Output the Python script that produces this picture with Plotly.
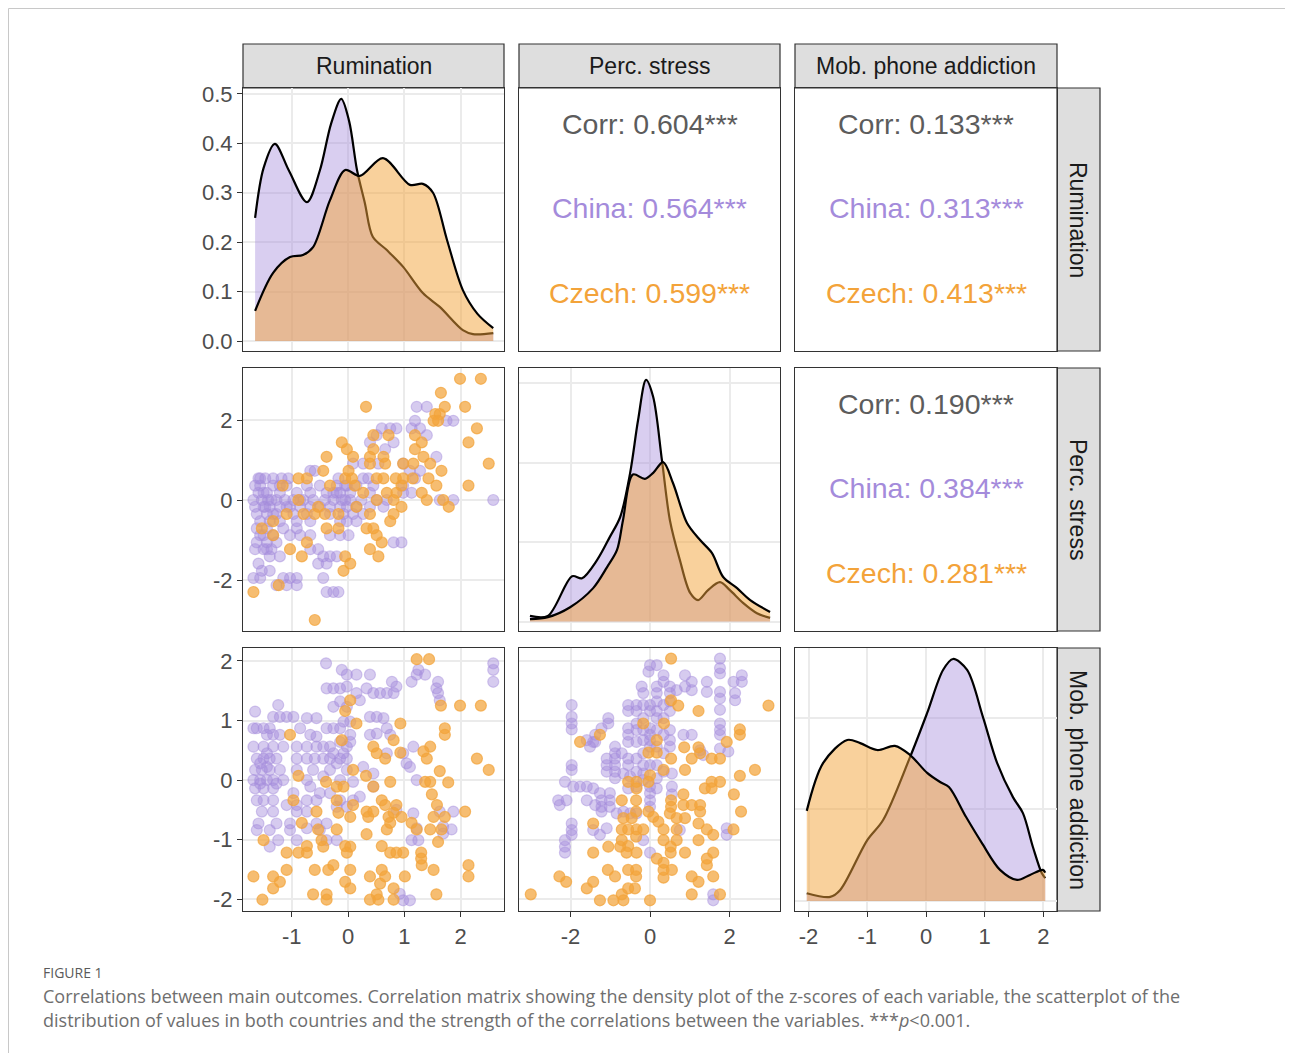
import plotly.graph_objects as go

W, H = 1293, 1053          # reference picture size (pixels)
BODY = 8                   # default page margin around the plotly div

# ---------------- data ----------------
variables = ["Rumination", "Perc. stress", "Mob. phone addiction"]
corr_rum_stress = ["0.604", "0.564", "0.599"]      # overall, China, Czech
corr_rum_phone = ["0.133", "0.313", "0.413"]
corr_stress_phone = ["0.190", "0.384", "0.281"]
signif = "***"

# density curves (z-score, density)
rum_dens_china_x = [-1.65, -1.50, -1.30, -1.05, -0.73, -0.50, -0.30, -0.12, 0.02, 0.16, 0.30, 0.44, 0.69, 0.98, 1.33, 1.63, 2.04, 2.22, 2.58]
rum_dens_china_y = [0.249, 0.350, 0.399, 0.345, 0.281, 0.345, 0.440, 0.490, 0.445, 0.346, 0.279, 0.211, 0.184, 0.150, 0.097, 0.069, 0.022, 0.014, 0.016]
rum_dens_czech_x = [-1.65, -1.33, -1.03, -0.80, -0.62, -0.32, -0.05, 0.21, 0.62, 1.10, 1.33, 1.51, 1.76, 2.04, 2.30, 2.58]
rum_dens_czech_y = [0.061, 0.138, 0.170, 0.174, 0.190, 0.285, 0.346, 0.334, 0.370, 0.316, 0.318, 0.300, 0.204, 0.103, 0.055, 0.026]

stress_dens_china_x = [-3.02, -2.57, -1.96, -1.71, -1.33, -1.01, -0.75, -0.50, -0.30, -0.10, 0.08, 0.30, 0.50, 0.75, 1.01, 1.21, 1.46, 1.76, 2.01, 2.34, 2.69, 3.02]
stress_dens_china_y = [0.014, 0.014, 0.114, 0.109, 0.155, 0.213, 0.263, 0.374, 0.507, 0.608, 0.565, 0.406, 0.255, 0.155, 0.072, 0.054, 0.079, 0.099, 0.079, 0.047, 0.021, 0.009]
stress_dens_czech_x = [-3.02, -2.57, -2.01, -1.43, -1.08, -0.83, -0.68, -0.43, -0.13, 0.08, 0.33, 0.58, 0.93, 1.26, 1.56, 1.84, 2.19, 2.52, 3.02]
stress_dens_czech_y = [0.006, 0.011, 0.036, 0.084, 0.137, 0.180, 0.255, 0.370, 0.359, 0.374, 0.401, 0.348, 0.248, 0.205, 0.172, 0.112, 0.084, 0.054, 0.024]

phone_dens_china_x = [-2.03, -1.63, -1.46, -1.00, -0.73, -0.27, 0.02, 0.29, 0.46, 0.70, 0.97, 1.21, 1.48, 1.65, 1.82, 1.97, 2.03]
phone_dens_china_y = [0.017, 0.009, 0.024, 0.133, 0.177, 0.315, 0.411, 0.505, 0.529, 0.505, 0.402, 0.302, 0.227, 0.192, 0.118, 0.061, 0.050]
phone_dens_czech_x = [-2.03, -1.75, -1.34, -1.12, -0.83, -0.53, -0.27, 0.02, 0.24, 0.39, 0.68, 0.95, 1.26, 1.55, 1.77, 1.99, 2.03]
phone_dens_czech_y = [0.197, 0.302, 0.352, 0.345, 0.330, 0.339, 0.319, 0.280, 0.260, 0.249, 0.184, 0.127, 0.068, 0.046, 0.057, 0.068, 0.062]

# scatter: (rumination, perceived stress)
china_rum_stress = [
    (1.22, 2.33), (1.40, 2.33), (1.19, 1.98), (1.75, 1.98), (1.87, 1.98),
    (0.60, 1.79), (0.75, 1.79), (0.86, 1.79), (1.13, 1.79), (1.28, 1.79),
    (0.51, 1.62), (1.40, 1.62), (0.39, 1.44), (0.81, 1.44), (0.66, 1.27), (1.57, 1.08),
    (0.09, 0.91), (0.27, 0.91), (0.54, 0.91), (0.98, 0.91),
    (-0.67, 0.73), (-0.59, 0.73), (1.10, 0.73), (1.28, 0.73),
    (-1.59, 0.54), (-1.47, 0.54), (-1.33, 0.54), (-1.18, 0.54), (-1.06, 0.54), (-0.17, 0.54), (0.27, 0.54), (0.36, 0.54), (1.19, 0.54),
    (-1.65, 0.36), (-1.56, 0.36), (-1.33, 0.36), (-1.21, 0.36), (-1.09, 0.36), (-0.73, 0.36), (-0.50, 0.36), (-0.20, 0.36), (-0.05, 0.36), (0.15, 0.36), (0.45, 0.36), (0.98, 0.36),
    (-1.59, 0.18), (-1.44, 0.18), (-1.21, 0.18), (-0.91, 0.18), (-0.67, 0.18), (-0.38, 0.18), (-0.26, 0.18), (-0.14, 0.18), (0.04, 0.18), (0.39, 0.18), (0.98, 0.18), (1.13, 0.18),
    (-1.68, 0.0), (-1.53, 0.0), (-1.42, 0.0), (-1.27, 0.0), (-1.12, 0.0), (-0.97, 0.0), (-0.79, 0.0), (-0.62, 0.0), (-0.41, 0.0), (-0.26, 0.0), (-0.11, 0.0), (0.04, 0.0), (0.24, 0.0), (0.51, 0.0), (0.69, 0.0), (1.63, 0.0), (1.87, 0.0), (2.58, 0.0),
    (-1.65, -0.17), (-1.50, -0.17), (-1.39, -0.17), (-1.21, -0.17), (-1.03, -0.17), (-0.85, -0.17), (-0.67, -0.17), (-0.50, -0.17), (-0.32, -0.17), (-0.14, -0.17), (-0.02, -0.17), (0.15, -0.17), (0.39, -0.17), (0.63, -0.17),
    (-1.62, -0.35), (-1.44, -0.35), (-1.27, -0.35), (-0.97, -0.35), (-0.73, -0.35), (-0.32, -0.35), (-0.08, -0.35), (0.09, -0.35), (0.27, -0.35),
    (-1.56, -0.53), (-1.39, -0.53), (-1.21, -0.53), (-0.91, -0.53), (-0.67, -0.53), (-0.02, -0.53), (0.15, -0.53),
    (-1.62, -0.71), (-1.44, -0.71), (-1.15, -0.71), (-0.91, -0.71),
    (-1.50, -0.88), (-1.33, -0.88), (-1.03, -0.88), (-0.85, -0.88), (-0.67, -0.88), (-0.32, -0.88), (-0.14, -0.88), (0.01, -0.88),
    (-1.62, -1.06), (-1.44, -1.06), (-1.27, -1.06), (0.81, -1.06), (0.95, -1.06),
    (-1.65, -1.23), (-1.50, -1.23), (-1.36, -1.23), (-0.67, -1.23), (-0.53, -1.23),
    (-1.39, -1.41), (-1.21, -1.41), (-0.44, -1.41), (-0.32, -1.41), (-0.20, -1.41),
    (-1.59, -1.59), (-0.53, -1.59), (-0.38, -1.59), (-1.53, -1.77), (-1.39, -1.77),
    (-1.68, -1.95), (-1.56, -1.95), (-1.15, -1.95), (-1.03, -1.95), (-0.91, -1.95), (-0.44, -1.95),
    (-1.27, -2.13), (-1.09, -2.13), (-0.91, -2.13), (-0.38, -2.30), (-0.26, -2.30), (-0.17, -2.30),
    (-1.50, 0.18), (-1.36, 0.0), (-1.47, -0.17), (-1.33, -0.35), (-1.56, 0.54), (-0.05, 0.0), (-0.20, 0.18),
    (-0.02, 0.36), (-0.14, -0.53), (-0.85, 0.0), (-1.09, -0.17), (-1.56, -0.88), (-1.44, -1.23),
]
czech_rum_stress = [
    (1.99, 3.03), (2.36, 3.03), (1.65, 2.68), (1.72, 2.33), (2.08, 2.33), (0.32, 2.33), (1.55, 2.15), (1.63, 2.15),
    (1.52, 1.98), (1.60, 1.98), (2.29, 1.79), (2.14, 1.44), (0.45, 1.62), (0.72, 1.62), (-0.11, 1.44), (-0.02, 1.27),
    (0.45, 1.27), (1.19, 1.62), (1.31, 1.44), (1.19, 1.27), (1.34, 1.08), (1.46, 0.91), (-0.38, 1.08), (0.09, 1.08),
    (0.39, 1.08), (0.39, 0.91), (0.63, 1.08), (0.66, 0.91), (0.98, 0.91), (1.16, 0.91), (1.66, 0.73), (2.50, 0.91),
    (-0.44, 0.73), (0.01, 0.73), (-0.05, 0.54), (0.07, 0.54), (-0.32, 0.36), (0.12, 0.36), (0.51, 0.54), (0.63, 0.54),
    (0.85, 0.54), (0.98, 0.54), (1.15, 0.54), (1.43, 0.54), (1.57, 0.36), (2.14, 0.36), (-1.16, 0.36), (-0.88, 0.54),
    (-0.73, 0.54), (0.69, 0.18), (0.86, 0.18), (0.95, 0.36), (0.51, 0.0), (0.81, 0.0), (1.31, 0.18), (1.40, 0.0),
    (1.69, 0.0), (1.79, -0.17), (-0.88, 0.0), (-0.53, -0.17), (-1.09, -0.35), (-0.79, -0.35), (-0.59, -0.35),
    (-0.41, -0.35), (-0.17, -0.35), (0.39, -0.35), (0.75, -0.53), (0.81, -0.35), (0.95, -0.17), (-1.33, -0.53),
    (-1.53, -0.71), (-0.38, -0.71), (-0.17, -0.71), (0.33, -0.71), (0.45, -0.71), (0.51, -0.88), (0.60, -1.06),
    (-1.33, -0.88), (-0.73, -1.06), (-1.03, -1.23), (-0.82, -1.41), (0.39, -1.23), (0.54, -1.41), (-0.05, -1.41),
    (0.04, -1.59), (-0.08, -1.77), (-1.68, -2.30), (-1.23, -2.13), (-0.59, -3.0), (0.15, -0.17), (0.27, 0.18),
]

# scatter: (rumination, mobile phone addiction)
china_rum_phone = [
    (-0.39, 1.96), (-0.11, 1.85), (-0.02, 1.77), (0.15, 1.77), (0.39, 1.77), (0.78, 1.65), (1.13, 1.65), (1.25, 1.85),
    (1.22, 1.77), (1.37, 1.77), (1.60, 1.65), (2.58, 1.96), (2.58, 1.85), (2.58, 1.65), (1.57, 1.54), (1.60, 1.46),
    (1.63, 1.34), (-0.38, 1.54), (-0.26, 1.54), (-0.14, 1.54), (-0.02, 1.57), (0.33, 1.54), (0.45, 1.46), (0.57, 1.46),
    (0.69, 1.46), (0.81, 1.46), (0.86, 1.57), (0.15, 1.46), (0.21, 1.34), (-0.14, 1.32), (-0.26, 1.23), (-0.02, 1.23),
    (-1.24, 1.26), (-1.33, 1.06), (-1.21, 1.06), (-1.09, 1.06), (-0.97, 1.06), (-1.65, 1.15), (-1.62, 0.87), (-1.50, 0.87),
    (-1.39, 0.87), (-1.68, 0.87), (-0.73, 1.04), (-0.56, 1.04), (-0.38, 0.87), (-0.26, 0.87), (-0.08, 0.98), (0.04, 0.98),
    (-0.14, 0.87), (0.39, 1.06), (0.51, 1.06), (0.63, 1.04), (0.69, 0.87), (0.75, 0.76), (0.51, 0.78), (0.39, 0.76),
    (0.04, 0.76), (-0.85, 0.87), (-0.67, 0.76), (-0.56, 0.73), (-1.21, 0.76), (-1.33, 0.76), (-1.44, 0.76),
    (-1.68, 0.56), (-1.50, 0.56), (-1.33, 0.56), (-1.15, 0.56), (-0.91, 0.56), (-0.73, 0.56), (-0.56, 0.56), (-0.44, 0.56),
    (-0.32, 0.56), (-0.02, 0.56), (0.69, 0.45), (0.98, 0.45), (1.16, 0.56),
    (-1.62, 0.36), (-1.50, 0.36), (-1.39, 0.36), (-1.27, 0.36), (-0.91, 0.36), (-0.73, 0.36), (-0.59, 0.36), (-0.44, 0.36),
    (-0.32, 0.36), (-0.14, 0.36), (-0.02, 0.36), (1.04, 0.28), (1.10, 0.22),
    (-1.65, 0.17), (-1.53, 0.17), (-1.39, 0.17), (-1.21, 0.17), (-0.91, 0.17), (-0.62, 0.17), (-0.32, 0.17), (-0.02, 0.17),
    (0.27, 0.22), (0.45, 0.11),
    (-1.68, 0.0), (-1.56, 0.0), (-1.44, 0.0), (-1.33, 0.0), (-1.15, 0.0), (-0.73, 0.0), (-0.44, 0.06), (-0.14, 0.0),
    (0.09, -0.03), (0.45, -0.11), (1.22, 0.0),
    (-1.65, -0.14), (-1.50, -0.14), (-1.33, -0.14), (-0.97, -0.22), (-0.67, -0.11), (-0.50, -0.22), (-0.32, -0.22),
    (-1.62, -0.34), (-1.50, -0.34), (-1.33, -0.34), (-1.09, -0.42), (-0.91, -0.42), (-0.73, -0.34), (-0.56, -0.34),
    (-0.14, -0.34), (0.09, -0.34), (0.21, -0.28),
    (-1.53, -0.53), (-1.33, -0.53), (-0.91, -0.53), (-0.73, -0.53), (-0.20, -0.45), (-0.02, -0.45), (0.86, -0.50),
    (1.16, -0.56), (1.63, -0.53), (1.87, -0.53),
    (-1.59, -0.73), (-1.27, -0.73), (-1.03, -0.73), (-0.56, -0.73), (-0.38, -0.73), (1.22, -0.81), (1.69, -0.78), (1.84, -0.83),
    (-1.62, -0.84), (-1.39, -0.84), (-1.03, -0.84), (-0.73, -0.81), (-0.50, -0.84), (1.13, -1.01), (1.25, -1.01), (1.69, -0.90),
    (-1.39, -1.12), (-1.24, -1.01), (-0.91, -1.01), (-0.38, -1.01), (-0.20, -1.01),
    (0.92, -1.91), (0.98, -2.02), (1.10, -2.02),
    (-1.56, 0.28), (-1.44, 0.22), (-1.56, -0.06), (-1.44, 0.45), (-1.27, -0.06), (-0.20, 0.28), (-0.08, 0.45),
    (-0.26, 0.45), (-0.14, 0.64), (0.04, 0.64),
]
czech_rum_phone = [
    (1.22, 2.03), (1.44, 2.03), (1.65, 1.25), (1.99, 1.25), (2.36, 1.25), (0.04, 1.34), (-0.05, 1.16), (0.15, 0.95),
    (0.93, 0.95), (-1.03, 0.76), (-0.11, 0.67), (1.72, 0.87), (1.72, 0.76), (0.81, 0.67), (1.46, 0.56), (0.45, 0.56),
    (0.51, 0.45), (0.66, 0.36), (0.93, 0.46), (1.34, 0.48), (1.40, 0.36), (2.29, 0.36), (2.50, 0.17), (0.09, 0.17),
    (0.32, 0.07), (-0.88, 0.07), (-0.39, -0.03), (-0.20, -0.11), (-0.08, -0.11), (0.45, -0.11), (0.75, -0.03),
    (1.37, -0.03), (1.46, -0.03), (1.78, -0.04), (1.63, 0.15), (1.49, -0.24), (-0.97, -0.34), (-0.20, -0.34),
    (0.09, -0.42), (0.60, -0.34), (0.66, -0.42), (0.86, -0.42), (0.33, -0.53), (0.45, -0.53), (-0.56, -0.53),
    (-0.17, -0.55), (0.04, -0.62), (0.36, -0.62), (0.72, -0.62), (0.81, -0.55), (0.95, -0.62), (1.58, -0.42),
    (1.52, -0.62), (1.72, -0.62), (2.08, -0.53), (-0.82, -0.72), (1.13, -0.72), (-0.53, -0.83), (-0.20, -0.83),
    (0.33, -0.91), (0.69, -0.83), (0.75, -0.72), (1.22, -0.83), (1.46, -0.83), (1.66, -0.83), (1.60, -1.04),
    (-1.50, -1.01), (-0.73, -1.11), (-1.09, -1.22), (-0.88, -1.22), (-0.73, -1.22), (-0.47, -1.01), (-0.44, -1.12),
    (-0.05, -1.11), (0.04, -1.12), (-0.02, -1.22), (0.60, -1.11), (0.75, -1.22), (0.86, -1.22), (0.98, -1.22),
    (1.30, -1.22), (1.30, -1.32), (1.31, -1.43), (2.14, -1.43), (2.14, -1.62), (-1.68, -1.62), (-1.33, -1.62),
    (-1.21, -1.71), (-1.33, -1.82), (-1.09, -1.51), (-0.59, -1.51), (-0.35, -1.51), (-0.26, -1.43), (0.04, -1.51),
    (-0.05, -1.71), (0.04, -1.82), (0.39, -1.62), (0.60, -1.51), (0.66, -1.62), (0.57, -1.74), (0.81, -1.82),
    (1.01, -1.62), (1.52, -1.51), (-0.62, -1.92), (-0.38, -1.92), (-0.38, -2.01), (0.39, -2.01), (0.51, -1.92),
    (0.54, -2.01), (0.81, -2.01), (1.57, -1.92), (-1.52, -2.01),
]

# scatter: (perceived stress, mobile phone addiction)
china_stress_phone = [
    (1.76, 2.04), (1.76, 1.88), (1.76, 1.79), (0.0, 1.93), (0.17, 1.93), (-0.04, 1.82), (0.34, 1.76), (0.34, 1.65),
    (0.88, 1.76), (1.05, 1.65), (1.43, 1.65), (1.43, 1.48), (2.10, 1.65), (2.31, 1.76), (2.31, 1.65), (-0.21, 1.57),
    (-0.17, 1.46), (0.17, 1.57), (0.17, 1.46), (0.50, 1.57), (0.50, 1.46), (0.67, 1.51), (0.88, 1.57), (1.05, 1.51),
    (1.76, 1.48), (1.76, 1.37), (2.14, 1.46), (2.14, 1.34),
    (-0.55, 1.26), (-0.34, 1.26), (-0.17, 1.26), (0.0, 1.26), (0.17, 1.32), (0.34, 1.26), (0.50, 1.32),
    (-0.55, 1.16), (-0.34, 1.16), (0.0, 1.16), (0.17, 1.16), (0.50, 1.16),
    (-1.97, 1.26), (-1.97, 1.06), (-1.97, 0.95), (-1.97, 0.85), (1.76, 1.18), (1.76, 0.95), (1.76, 0.84), (1.76, 0.76),
    (-1.05, 1.04), (-1.05, 0.95), (-1.22, 0.87), (-1.38, 0.76), (-1.38, 0.64), (-0.55, 0.87), (-0.55, 0.76), (-0.55, 0.64),
    (-0.34, 0.95), (-0.34, 0.84), (-0.34, 0.64), (-0.17, 0.84), (-0.17, 0.67), (0.0, 0.87), (0.0, 0.76), (0.0, 0.67),
    (0.17, 0.84), (0.34, 0.76), (0.50, 0.84), (0.50, 0.67), (0.84, 0.76), (1.05, 0.76), (1.26, 0.50), (1.34, 0.42),
    (1.76, 0.53), (1.97, 0.48),
    (-0.88, 0.56), (-0.88, 0.45), (-0.88, 0.36), (-0.88, 0.25), (-0.88, 0.14), (-0.88, 0.03),
    (-1.09, 0.36), (-1.09, 0.25), (-1.09, 0.14),
    (-0.71, 0.45), (-0.55, 0.36), (-0.34, 0.36), (-0.17, 0.45), (0.0, 0.56), (0.17, 0.56), (0.34, 0.45), (0.50, 0.56),
    (-0.55, 0.25), (-0.17, 0.25), (0.0, 0.25), (0.17, 0.25),
    (-0.67, 0.11), (-0.50, 0.06), (-0.17, 0.11), (0.0, -0.11), (0.0, -0.22), (0.0, -0.34), (0.0, -0.45),
    (0.55, 0.11), (0.55, -0.11), (0.55, -0.24),
    (-1.59, 0.67), (-1.43, 0.64), (-1.51, 0.56), (-1.97, 0.25), (-1.97, 0.17),
    (-2.14, -0.03), (-1.93, -0.11), (-1.76, -0.11), (-1.59, -0.11),
    (-2.31, -0.34), (-2.10, -0.34), (-2.27, -0.42),
    (-1.59, -0.34), (-1.38, -0.42), (-1.22, -0.34), (-1.22, -0.45), (-1.22, -0.53),
    (-1.43, -0.14), (-1.26, -0.22), (-1.01, -0.22), (-1.01, -0.34), (-1.01, -0.45),
    (-0.84, -0.56), (-0.67, -0.53), (-0.50, -0.56), (-0.34, -0.56),
    (-1.97, -0.73), (-1.97, -0.84), (-1.97, -0.92), (-2.14, -1.01), (-2.14, -1.12), (-2.14, -1.22),
    (-1.43, -0.84), (-1.26, -0.92), (-1.09, -0.81), (-0.17, -1.01), (0.0, -1.22),
    (0.75, -0.84), (1.93, -0.81), (1.93, -0.92), (1.59, -1.92), (1.59, -2.02),
    (-0.34, 0.14), (-0.17, 0.0), (0.17, 0.03), (0.34, 0.14), (-0.34, -0.11), (0.17, -0.14), (-0.55, -0.14),
    (0.34, 1.04), (0.17, 1.04), (-0.17, 1.04),
]
czech_stress_phone = [
    (0.53, 2.04), (2.98, 1.25), (0.53, 1.34), (0.71, 1.25), (1.22, 1.16), (-0.17, 0.95), (0.35, 0.95), (-1.26, 0.76),
    (-1.76, 0.64), (0.17, 0.67), (-0.04, 0.46), (0.17, 0.46), (0.86, 0.55), (1.22, 0.55), (1.26, 0.45), (1.05, 0.36),
    (0.53, 0.36), (1.55, 0.36), (1.76, 0.36), (2.26, 0.85), (2.26, 0.76), (1.93, 0.64), (2.64, 0.17), (2.26, 0.07),
    (0.34, 0.17), (0.88, 0.17), (0.0, 0.08), (-0.04, -0.03), (-0.34, -0.03), (-0.55, -0.03), (-0.34, -0.14),
    (1.38, -0.14), (1.55, -0.03), (1.76, -0.03), (1.55, -0.14), (0.84, -0.24), (2.11, -0.24), (-0.71, -0.34),
    (-0.35, -0.34), (0.53, -0.34), (0.53, -0.45), (0.84, -0.42), (1.05, -0.42), (1.26, -0.53), (1.26, -0.42),
    (2.29, -0.53), (-0.35, -0.53), (-0.04, -0.53), (0.08, -0.62), (0.21, -0.70), (-0.67, -0.64), (-0.46, -0.64),
    (0.50, -0.56), (0.67, -0.64), (0.88, -0.64), (1.22, -0.73), (1.43, -0.83), (1.59, -0.92), (2.10, -0.83),
    (-1.43, -0.73), (-0.71, -0.83), (-0.55, -0.83), (-0.34, -0.83), (-0.17, -0.83), (0.34, -0.83), (0.67, -0.83),
    (-0.71, -1.01), (-0.55, -1.11), (-0.35, -0.95), (0.34, -1.01), (0.67, -1.01), (-1.05, -1.12), (-1.43, -1.22),
    (-0.75, -1.12), (-0.59, -1.22), (-0.34, -1.22), (0.17, -1.32), (0.52, -1.12), (0.52, -1.22), (0.88, -1.22),
    (1.22, -1.01), (1.43, -1.32), (1.43, -1.43), (1.59, -1.22), (0.34, -1.39), (0.34, -1.51), (0.34, -1.64),
    (0.55, -1.51), (-1.06, -1.51), (-0.88, -1.62), (-0.55, -1.51), (-0.35, -1.51), (-0.35, -1.62), (1.05, -1.62),
    (1.22, -1.71), (1.59, -1.62), (-2.28, -1.62), (-2.11, -1.71), (-1.59, -1.82), (-1.43, -1.71), (-0.55, -1.82),
    (-0.38, -1.82), (-0.71, -1.92), (-0.67, -2.02), (-0.92, -2.02), (-1.26, -2.02), (0.0, -2.02), (1.05, -1.92),
    (1.76, -1.92), (-3.0, -1.92),
]

# ticks
rum_ticks = [-1, 0, 1, 2]
rum_tick_text = ["-1", "0", "1", "2"]
stress_ticks = [-2, 0, 2]
stress_tick_text = ["-2", "0", "2"]
phone_ticks = [-2, -1, 0, 1, 2]
phone_tick_text = ["-2", "-1", "0", "1", "2"]
dens_ticks = [0.0, 0.1, 0.2, 0.3, 0.4, 0.5]
dens_tick_text = ["0.0", "0.1", "0.2", "0.3", "0.4", "0.5"]
stress_dens_grid = [0.0, 0.2, 0.4, 0.6]
phone_dens_grid = [0.0, 0.2, 0.4]

caption_label = "FIGURE 1"
caption_line1 = ("Correlations between main outcomes. Correlation matrix showing the density plot of the z-scores "
                 "of each variable, the scatterplot of the")
caption_line2 = ("distribution of values in both countries and the strength of the correlations between the "
                 "variables. ***<i>p</i>&lt;0.001.")

# ---------------- styling / layout ----------------
PURPLE = (164, 139, 219)
ORANGE = (243, 163, 58)
FONT = "Liberation Sans, Arial, sans-serif"
CAPFONT = "Open Sans, Lato, sans-serif"
GRID = "#EBEBEB"
BORDER = "#333333"
STRIP = "#DEDEDE"

FW, FH = W - BODY, H - BODY   # figure size (the page adds BODY px before it)


def rgba(c, a):
    return "rgba(%d,%d,%d,%s)" % (c[0], c[1], c[2], a)


col_px = [(243, 504), (519, 780), (795, 1057)]
row_px = [(88, 351), (368, 631), (648, 911)]


def xd(px):
    return (px - BODY) / FW


def yd(py):
    return 1 - (py - BODY) / FH


x_ranges = [[-1.865, 2.771], [-3.296, 3.270], [-2.230, 2.230]]
y_ranges = {
    (0, 0): [-0.0202, 0.512],
    (1, 1): [-0.0239, 0.638],
    (2, 2): [-0.0219, 0.553],
    1: [-3.275, 3.30],
    2: [-2.20, 2.218],
}
x_ticks = [(rum_ticks, rum_tick_text), (stress_ticks, stress_tick_text), (phone_ticks, phone_tick_text)]
y_ticks_row = {1: (stress_ticks, stress_tick_text), 2: (phone_ticks, phone_tick_text)}

fig = go.Figure()
layout = dict(
    width=FW, height=FH, autosize=False,
    margin=dict(l=0, r=0, t=0, b=0, pad=0, autoexpand=False),
    paper_bgcolor="white", plot_bgcolor="white",
    showlegend=False,
    font=dict(family=FONT, color="#4D4D4D", size=22),
)


def axname(n, letter):
    return letter if n == 1 else f"{letter}{n}"


TICKFONT = dict(size=22, color="#4D4D4D", family=FONT)

for r in range(3):
    for c in range(3):
        n = r * 3 + c + 1
        kind = "dens" if r == c else ("scatter" if r > c else "text")
        tv, tt = x_ticks[c]
        xa = dict(
            domain=[xd(col_px[c][0]), xd(col_px[c][1])],
            anchor=axname(n, "y"), range=x_ranges[c], automargin=False,
            tickvals=tv, ticktext=tt,
            showgrid=(kind != "text"), gridcolor=GRID, gridwidth=1.6,
            zeroline=False, showline=True, mirror=True, linecolor=BORDER, linewidth=1.2,
            showticklabels=(r == 2), ticks=("outside" if r == 2 else ""),
            ticklen=5, tickwidth=1.4, tickcolor=BORDER, tickfont=TICKFONT,
            fixedrange=True,
        )
        if kind == "dens":
            yr = y_ranges[(r, c)]
            if r == 0:
                ytv, ytt = dens_ticks, dens_tick_text
            elif r == 1:
                ytv, ytt = stress_dens_grid, [""] * len(stress_dens_grid)
            else:
                ytv, ytt = phone_dens_grid, [""] * len(phone_dens_grid)
        else:
            yr = y_ranges[r] if r > 0 else [0, 1]
            ytv, ytt = y_ticks_row.get(r, ([], []))
        ya = dict(
            domain=[yd(row_px[r][1]), yd(row_px[r][0])],
            anchor=axname(n, "x"), range=yr, automargin=False,
            tickvals=ytv, ticktext=ytt,
            showgrid=(kind != "text"), gridcolor=GRID, gridwidth=1.6,
            zeroline=False, showline=True, mirror=True, linecolor=BORDER, linewidth=1.2,
            showticklabels=(c == 0), ticks=("outside" if c == 0 else ""),
            ticklen=5, tickwidth=1.4, tickcolor=BORDER, tickfont=TICKFONT,
            fixedrange=True,
        )
        layout["xaxis" if n == 1 else f"xaxis{n}"] = xa
        layout["yaxis" if n == 1 else f"yaxis{n}"] = ya
        if kind == "text":
            fig.add_trace(go.Scatter(x=[], y=[], xaxis=axname(n, "x"), yaxis=axname(n, "y"),
                                     hoverinfo="skip"))


def add_density(n, xs, ys, color, fill_alpha):
    fig.add_trace(go.Scatter(
        x=xs, y=ys, xaxis=axname(n, "x"), yaxis=axname(n, "y"),
        mode="lines", line=dict(color="black", width=2.2, shape="spline", smoothing=0.9),
        fill="tozeroy", fillcolor=rgba(color, fill_alpha), hoverinfo="skip",
    ))


add_density(1, rum_dens_china_x, rum_dens_china_y, PURPLE, 0.42)
add_density(1, rum_dens_czech_x, rum_dens_czech_y, ORANGE, 0.5)
add_density(5, stress_dens_china_x, stress_dens_china_y, PURPLE, 0.42)
add_density(5, stress_dens_czech_x, stress_dens_czech_y, ORANGE, 0.5)
add_density(9, phone_dens_china_x, phone_dens_china_y, PURPLE, 0.42)
add_density(9, phone_dens_czech_x, phone_dens_czech_y, ORANGE, 0.5)


def add_points(n, pairs, color, alpha):
    fig.add_trace(go.Scatter(
        x=[p[0] for p in pairs], y=[p[1] for p in pairs],
        xaxis=axname(n, "x"), yaxis=axname(n, "y"), mode="markers",
        marker=dict(size=11, color=rgba(color, alpha), line=dict(width=1.2, color=rgba(color, alpha))),
        hoverinfo="skip",
    ))


add_points(4, china_rum_stress, PURPLE, 0.45)
add_points(4, czech_rum_stress, ORANGE, 0.72)
add_points(7, china_rum_phone, PURPLE, 0.45)
add_points(7, czech_rum_phone, ORANGE, 0.72)
add_points(8, china_stress_phone, PURPLE, 0.45)
add_points(8, czech_stress_phone, ORANGE, 0.72)

annotations = []
shapes = []

# correlation text panels
corr_panels = {2: corr_rum_stress, 3: corr_rum_phone, 6: corr_stress_phone}
labels = ["Corr", "China", "Czech"]
label_colors = ["#5C5C5C", rgba(PURPLE, 1), rgba(ORANGE, 1)]
label_ypos = [0.864, 0.543, 0.222]
for n, vals in corr_panels.items():
    for lab, val, col, yy in zip(labels, vals, label_colors, label_ypos):
        annotations.append(dict(
            text=f"{lab}: {val}{signif}", x=0.5, y=yy,
            xref=f"{axname(n, 'x')} domain", yref=f"{axname(n, 'y')} domain",
            showarrow=False, xanchor="center", yanchor="middle",
            font=dict(family=FONT, size=28.5, color=col),
        ))

# strips
for c, name in enumerate(variables):
    shapes.append(dict(type="rect", xref="paper", yref="paper",
                       x0=xd(col_px[c][0]), x1=xd(col_px[c][1]), y0=yd(88), y1=yd(44),
                       fillcolor=STRIP, line=dict(color=BORDER, width=1.2), layer="below"))
    annotations.append(dict(text=name, xref="paper", yref="paper",
                            x=xd((col_px[c][0] + col_px[c][1]) / 2), y=yd(66),
                            showarrow=False, xanchor="center", yanchor="middle",
                            font=dict(family=FONT, size=23, color="#1A1A1A")))
for r, name in enumerate(variables):
    shapes.append(dict(type="rect", xref="paper", yref="paper",
                       x0=xd(1057), x1=xd(1100), y0=yd(row_px[r][1]), y1=yd(row_px[r][0]),
                       fillcolor=STRIP, line=dict(color=BORDER, width=1.2), layer="below"))
    annotations.append(dict(text=name, xref="paper", yref="paper",
                            x=xd(1078.5), y=yd((row_px[r][0] + row_px[r][1]) / 2),
                            showarrow=False, xanchor="center", yanchor="middle", textangle=90,
                            font=dict(family=FONT, size=23, color="#1A1A1A")))

# outer frame
shapes.append(dict(type="rect", xref="paper", yref="paper",
                   x0=xd(8.5), x1=xd(1291.5), y0=-0.05, y1=yd(8.5),
                   line=dict(color="#C8C8C8", width=1), fillcolor="rgba(0,0,0,0)", layer="below"))

# caption
annotations.append(dict(text=caption_label, xref="paper", yref="paper", x=xd(41), y=yd(972),
                        showarrow=False, xanchor="left", yanchor="middle",
                        font=dict(family=CAPFONT, size=14, color="#5A5A5A")))
annotations.append(dict(text=caption_line1, xref="paper", yref="paper", x=xd(41), y=yd(996),
                        showarrow=False, xanchor="left", yanchor="middle",
                        font=dict(family=CAPFONT, size=18, color="#6E6E6E")))
annotations.append(dict(text=caption_line2, xref="paper", yref="paper", x=xd(41), y=yd(1020),
                        showarrow=False, xanchor="left", yanchor="middle",
                        font=dict(family=CAPFONT, size=18, color="#6E6E6E")))

layout["annotations"] = annotations
layout["shapes"] = shapes
fig.update_layout(**layout)
fig.write_html("out.html")
